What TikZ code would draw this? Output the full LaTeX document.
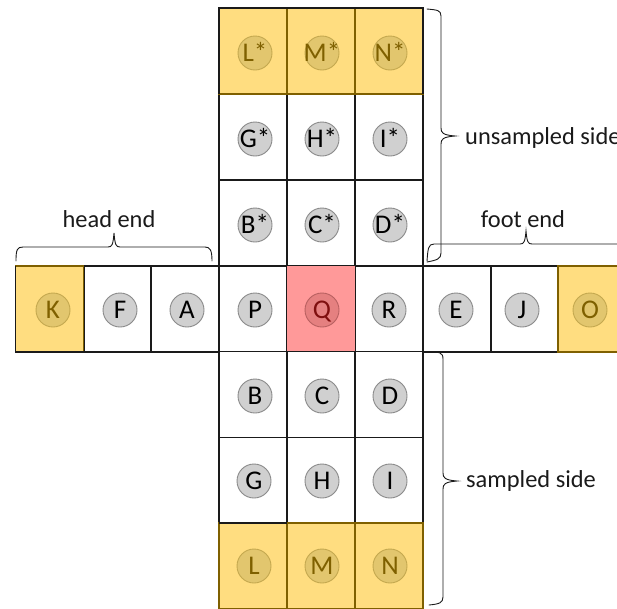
\documentclass[tikz,border=0pt]{standalone}
\usepackage{fontspec}
\setmainfont{Carlito}
\definecolor{gold}{HTML}{FFDD80}
\definecolor{goldline}{HTML}{7F6000}
\definecolor{goldball}{HTML}{E2C66E}
\definecolor{goldringc}{HTML}{C4A84F}
\definecolor{ball}{HTML}{D0D0D0}
\definecolor{ringc}{HTML}{8A8A8A}
\definecolor{hot}{HTML}{FF9999}
\definecolor{hotline}{HTML}{7F0F0F}
\definecolor{hotball}{HTML}{E58080}
\definecolor{hotring}{HTML}{B86060}
\definecolor{ink}{HTML}{1A1A1A}
\tikzset{
  x=1pt,y=-1pt,
  cell/.style={draw=ink,line width=1.5pt,fill=white,minimum width=68pt,minimum height=86pt,inner sep=0pt,outer sep=0pt},
  goldcell/.style={cell,fill=gold,draw=goldline},
  hotcell/.style={cell,fill=hot,draw=none},
  disc/.style={circle,draw=ringc,line width=0.9pt,fill=ball,minimum size=34pt,inner sep=0pt,text=black,font=\fontsize{27}{27}\selectfont},
  golddisc/.style={disc,draw=goldringc,fill=goldball,text=goldline},
  hotdisc/.style={disc,draw=hotring,fill=hotball,text=hotline},
  lab/.style={inner sep=0pt,text=ink,font=\fontsize{24.4}{24.4}\selectfont,anchor=base},
  brace/.style={draw=ink,line width=0.9pt,line cap=round},
}
\newcommand{\cellball}[8]{% name, cell x, cell y, disc x, disc y, cell style, disc style, text
  \node[#6] (c#1) at (#2,#3) {};
  \node[#7] (d#1) at (#4,#5) {\smash{\makebox[0pt]{\raisebox{-0.31em}{#8}}}};
}
\begin{document}
\begin{tikzpicture}
\useasboundingbox (0,0) rectangle (617,608);
% top block
\foreach \n/\cx/\dx/\t in {Gs/253/255/G*,Hs/321/322/H*,Is/389/390/I*}
  {\cellball{\n}{\cx}{137}{\dx}{139}{cell}{disc}{\t}}
\foreach \n/\cx/\dx/\t in {Bs/253/255/B*,Cs/321/322/C*,Ds/389/390/D*}
  {\cellball{\n}{\cx}{223}{\dx}{225}{cell}{disc}{\t}}
\foreach \n/\cx/\dx/\t in {Ls/253/255/L*,Ms/321/322/M*,Ns/389/390/N*}
  {\cellball{\n}{\cx}{51}{\dx}{53}{goldcell}{golddisc}{\t}}
\draw[ink,line width=1.5pt] (cLs.south west) -- (cLs.north west) -- (cNs.north east) -- (cNs.south east);
% middle row
\foreach \n/\cx/\dx/\t in {F/118/120/F,A/185/187/A,P/253/255/P,R/389/389/R,E/457/456/E,J/525/522/J}
  {\cellball{\n}{\cx}{309}{\dx}{310}{cell}{disc}{\t}}
\cellball{K}{49.5}{309}{53}{310}{goldcell}{golddisc}{K}
\cellball{O}{592}{309}{590}{310}{goldcell}{golddisc}{O}
\cellball{Q}{321}{309}{322}{310}{hotcell}{hotdisc}{Q}
\draw[ink,line width=1.5pt] (cK.north west) -- (cK.south west) -- (cK.south east);
% lower block
\foreach \n/\cx/\dx/\t in {B/253/255/B,C/321/322/C,D/389/390/D}
  {\cellball{\n}{\cx}{394.5}{\dx}{396}{cell}{disc}{\t}}
\foreach \n/\cx/\dx/\t in {G/253/254/G,H/321/322/H,I/389/390/I}
  {\cellball{\n}{\cx}{480.5}{\dx}{481}{cell}{disc}{\t}}
\foreach \n/\cx/\dx/\t in {L/253/254/L,M/321/322/M,N/389/390/N}
  {\cellball{\n}{\cx}{566}{\dx}{566}{goldcell}{golddisc}{\t}}
\draw[ink,line width=1.5pt] (cL.north west) -- (cL.north east);
% labels
\node[lab] (head) at (109,227) {head end};
\node[lab] (foot) at (523,227) {foot end};
\node[lab,anchor=base west] (unsampled) at (465,144) {unsampled side};
\node[lab,anchor=base west] (sampled) at (466,487) {sampled side};
% braces
\draw[brace] (16,261) .. controls (16,250) and (17,247) .. (23,247) -- (108,247)
  .. controls (112,247) and (113,245) .. (114,233)
  .. controls (115,245) and (116,247) .. (120,247) -- (205,247)
  .. controls (210,247) and (212,250) .. (212,261);
\draw[brace] (427,261) .. controls (428,249) and (428,244) .. (434,244) -- (520,244)
  .. controls (524,244) and (525,242) .. (526,231)
  .. controls (527,242) and (528,244) .. (532,244) -- (620,244);
\draw[brace] (427,9) .. controls (437,10) and (441,10) .. (441,16) -- (441,128)
  .. controls (441,133) and (443,135) .. (455,136)
  .. controls (443,137) and (441,139) .. (441,144) -- (441,253)
  .. controls (441,259) and (437,260) .. (427,262);
\draw[brace] (429,352) .. controls (439,352) and (443,352) .. (443,359) -- (443,473)
  .. controls (443,478) and (445,480) .. (457,481)
  .. controls (445,482) and (443,484) .. (443,489) -- (443,597)
  .. controls (443,603) and (439,604) .. (429,605);
\end{tikzpicture}
\end{document}
